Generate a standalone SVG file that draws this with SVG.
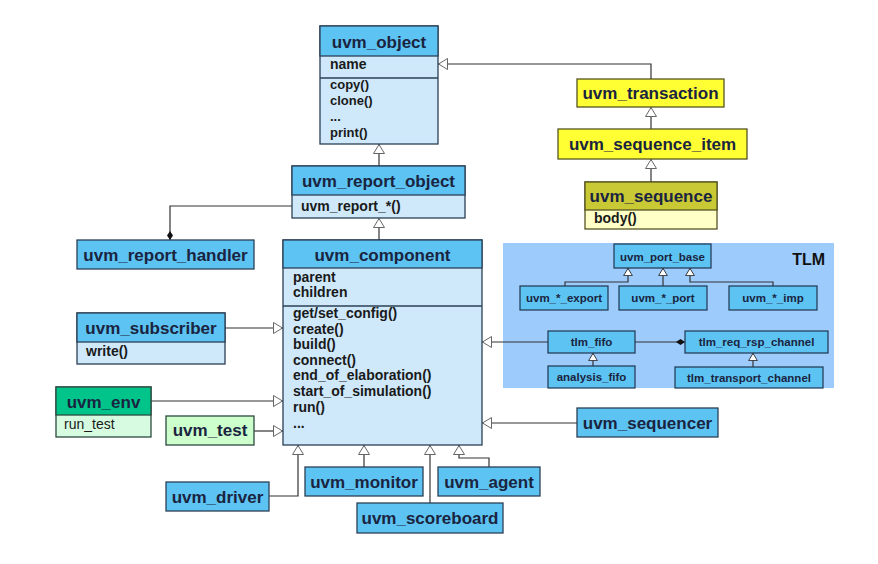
<svg xmlns="http://www.w3.org/2000/svg" width="878" height="564" viewBox="0 0 878 564">
<defs>
<style>
.hd{fill:#5cc3f2;stroke:#2b3f55;stroke-width:1.3}
.bd{fill:#cfe9fb;stroke:#2b3f55;stroke-width:1.3}
.yl{fill:#ffff33;stroke:#555522;stroke-width:1.3}
.ol{fill:#c9c935;stroke:#555522;stroke-width:1.3}
.lyl{fill:#ffffc8;stroke:#555522;stroke-width:1.3}
.gn{fill:#00c48a;stroke:#2b4a3f;stroke-width:1.3}
.lgn{fill:#d6fbe0;stroke:#2b4a3f;stroke-width:1.3}
.lgn2{fill:#ccffcc;stroke:#2b4a3f;stroke-width:1.3}
.tb{fill:#5cc3f2;stroke:#1f3550;stroke-width:1.2}
.t{font-family:"Liberation Sans",Arial,sans-serif;font-weight:bold;font-size:17px;fill:#1a2440;text-anchor:middle}
.m{font-family:"Liberation Sans",Arial,sans-serif;font-weight:bold;font-size:14px;fill:#1a1a1a}
.m2{font-family:"Liberation Sans",Arial,sans-serif;font-weight:bold;font-size:13px;fill:#1a1a1a}
.s{font-family:"Liberation Sans",Arial,sans-serif;font-weight:bold;font-size:11.5px;fill:#1a2440;text-anchor:middle}
.c{fill:none;stroke:#333;stroke-width:1.2}
</style>
<marker id="tri" viewBox="0 0 10 12" refX="10" refY="6" markerWidth="10" markerHeight="12" markerUnits="userSpaceOnUse" orient="auto">
<path d="M0.5,0.5 L9.5,6 L0.5,11.5 z" fill="#fff" stroke="#666" stroke-width="1"/>
</marker>
<marker id="tris" viewBox="0 0 10 12" refX="10" refY="6" markerWidth="8" markerHeight="10" markerUnits="userSpaceOnUse" orient="auto">
<path d="M0.5,0.5 L9.5,6 L0.5,11.5 z" fill="#fff" stroke="#333" stroke-width="1.2"/>
</marker>
<marker id="dia" viewBox="0 0 12 8" refX="12" refY="4" markerWidth="9" markerHeight="7" markerUnits="userSpaceOnUse" orient="auto">
<path d="M0,4 L6,0 L12,4 L6,8 z" fill="#111"/>
</marker>
</defs>
<rect width="878" height="564" fill="#fff"/>

<g id="tlm_area">
<rect x="503" y="243" width="331" height="145" fill="#9dcbfb"/>
<text x="825" y="265" font-family="Liberation Sans,Arial,sans-serif" font-weight="bold" font-size="16" fill="#111" text-anchor="end">TLM</text>
</g>

<g id="connectors">
<path class="c" d="M651,79 V64 H438" marker-end="url(#tri)"/>
<path class="c" d="M651,129 V107" marker-end="url(#tri)"/>
<path class="c" d="M651,182 V159" marker-end="url(#tri)"/>
<path class="c" d="M379,166 V144" marker-end="url(#tri)"/>
<path class="c" d="M379,240 V218" marker-end="url(#tri)"/>
<path class="c" d="M292,206 H170 V240" marker-end="url(#dia)"/>
<path class="c" d="M225,328 H283" marker-end="url(#tri)"/>
<path class="c" d="M548,342 H482" marker-end="url(#tri)"/>
<path class="c" d="M151,401 H283" marker-end="url(#tri)"/>
<path class="c" d="M254,431 H283" marker-end="url(#tri)"/>
<path class="c" d="M577,423 H482" marker-end="url(#tri)"/>
<path class="c" d="M269,496 H298 V445" marker-end="url(#tri)"/>
<path class="c" d="M364,467 V445" marker-end="url(#tri)"/>
<path class="c" d="M430,503 V445" marker-end="url(#tri)"/>
<path class="c" d="M489,467 V458 H459 V445" marker-end="url(#tri)"/>
<path class="c" d="M565,286 V282 H628 V268" marker-end="url(#tris)"/>
<path class="c" d="M663,286 V268" marker-end="url(#tris)"/>
<path class="c" d="M773,286 V282 H690 V268" marker-end="url(#tris)"/>
<path class="c" d="M635,342 H685" marker-end="url(#dia)"/>
<path class="c" d="M593,366 V353" marker-end="url(#tris)"/>
<path class="c" d="M753,367 V353" marker-end="url(#tris)"/>
</g>

<g id="uvm_object">
<rect class="bd" x="320" y="26" width="118" height="118"/>
<rect class="hd" x="320" y="26" width="118" height="30"/>
<line x1="320" y1="78" x2="438" y2="78" stroke="#2b3f55" stroke-width="1.3"/>
<text class="t" x="379" y="48">uvm_object</text>
<text class="m" x="330" y="69">name</text>
<text class="m2" x="330" y="89">copy()</text>
<text class="m2" x="330" y="104.5">clone()</text>
<text class="m2" x="330" y="121">...</text>
<text class="m2" x="330" y="137">print()</text>
</g>

<g id="uvm_report_object">
<rect class="bd" x="292" y="166" width="173" height="52"/>
<rect class="hd" x="292" y="166" width="173" height="29"/>
<text class="t" x="378.5" y="187">uvm_report_object</text>
<text class="m" x="301" y="211">uvm_report_*()</text>
</g>

<g id="uvm_report_handler">
<rect class="hd" x="77" y="240" width="177" height="29"/>
<text class="t" x="165.5" y="261">uvm_report_handler</text>
</g>

<g id="uvm_subscriber">
<rect class="bd" x="77" y="313" width="148" height="51"/>
<rect class="hd" x="77" y="313" width="148" height="29"/>
<text class="t" x="151" y="334">uvm_subscriber</text>
<text class="m" x="86" y="356">write()</text>
</g>

<g id="uvm_component">
<rect class="bd" x="283" y="240" width="199" height="205"/>
<rect class="hd" x="283" y="240" width="199" height="28"/>
<line x1="283" y1="306" x2="482" y2="306" stroke="#2b3f55" stroke-width="1.3"/>
<text class="t" x="382.5" y="261">uvm_component</text>
<text class="m" x="293" y="282">parent</text>
<text class="m" x="293" y="297">children</text>
<text class="m" x="293" y="318">get/set_config()</text>
<text class="m" x="293" y="333.6">create()</text>
<text class="m" x="293" y="349.2">build()</text>
<text class="m" x="293" y="364.8">connect()</text>
<text class="m" x="293" y="380.4">end_of_elaboration()</text>
<text class="m" x="293" y="396">start_of_simulation()</text>
<text class="m" x="293" y="411.6">run()</text>
<text class="m" x="293" y="428">...</text>
</g>

<g id="uvm_transaction">
<rect class="yl" x="577" y="79" width="147" height="28"/>
<text class="t" x="650.5" y="99">uvm_transaction</text>
</g>

<g id="uvm_sequence_item">
<rect class="yl" x="558" y="129" width="189" height="30"/>
<text class="t" x="652.5" y="150">uvm_sequence_item</text>
</g>

<g id="uvm_sequence">
<rect class="lyl" x="585" y="182" width="132" height="47"/>
<rect class="ol" x="585" y="182" width="132" height="28"/>
<text class="t" x="651" y="202">uvm_sequence</text>
<text class="m" x="594" y="223">body()</text>
</g>

<g id="uvm_port_base">
<rect class="tb" x="614" y="244" width="97" height="24"/>
<text class="s" x="662.5" y="261">uvm_port_base</text>
</g>
<g id="uvm_export">
<rect class="tb" x="520" y="286" width="88" height="24"/>
<text class="s" x="564" y="302">uvm_*_export</text>
</g>
<g id="uvm_port">
<rect class="tb" x="619" y="286" width="88" height="24"/>
<text class="s" x="663" y="302">uvm_*_port</text>
</g>
<g id="uvm_imp">
<rect class="tb" x="729" y="286" width="88" height="24"/>
<text class="s" x="773" y="302">uvm_*_imp</text>
</g>
<g id="tlm_fifo">
<rect class="tb" x="548" y="331" width="87" height="22"/>
<text class="s" x="591.5" y="346">tlm_fifo</text>
</g>
<g id="tlm_req_rsp_channel">
<rect class="tb" x="685" y="331" width="143" height="22"/>
<text class="s" x="756.5" y="346">tlm_req_rsp_channel</text>
</g>
<g id="analysis_fifo">
<rect class="tb" x="548" y="366" width="87" height="22"/>
<text class="s" x="591.5" y="381">analysis_fifo</text>
</g>
<g id="tlm_transport_channel">
<rect class="tb" x="675" y="367" width="148" height="21"/>
<text class="s" x="749" y="382">tlm_transport_channel</text>
</g>

<g id="uvm_env">
<rect class="lgn" x="56" y="387" width="95" height="50"/>
<rect class="gn" x="56" y="387" width="95" height="28"/>
<text class="t" x="103.5" y="408">uvm_env</text>
<text class="m" x="64" y="429" style="font-weight:normal">run_test</text>
</g>

<g id="uvm_test">
<rect class="lgn2" x="166" y="416" width="88" height="29"/>
<text class="t" x="210" y="436">uvm_test</text>
</g>

<g id="uvm_sequencer">
<rect class="hd" x="577" y="408" width="141" height="29"/>
<text class="t" x="647.5" y="429">uvm_sequencer</text>
</g>

<g id="uvm_driver">
<rect class="hd" x="166" y="482" width="103" height="29"/>
<text class="t" x="217.5" y="503">uvm_driver</text>
</g>

<g id="uvm_monitor">
<rect class="hd" x="305" y="467" width="118" height="29"/>
<text class="t" x="364" y="488">uvm_monitor</text>
</g>

<g id="uvm_agent">
<rect class="hd" x="438" y="467" width="102" height="29"/>
<text class="t" x="489" y="488">uvm_agent</text>
</g>

<g id="uvm_scoreboard">
<rect class="hd" x="357" y="503" width="146" height="30"/>
<text class="t" x="430" y="524">uvm_scoreboard</text>
</g>
</svg>
